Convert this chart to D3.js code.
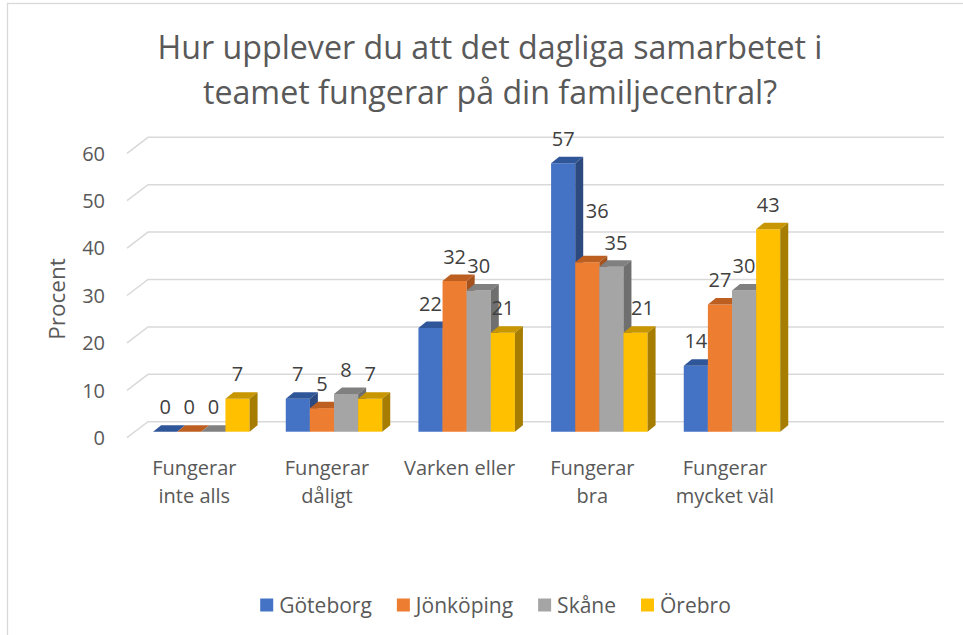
<!DOCTYPE html>
<html>
<head>
<meta charset="utf-8">
<script src="https://cdn.jsdelivr.net/npm/d3@7"></script>
<style>
  body { margin: 0; background: #fff; }
  svg { display: block; font-family: "Open Sans", sans-serif; }
</style>
</head>
<body>
<svg id="chart" width="963" height="635"></svg>
<script>
const titleLines = [
  "Hur upplever du att det dagliga samarbetet i",
  "teamet fungerar på din familjecentral?",
];
const categories = [
  "Fungerar inte alls",
  "Fungerar dåligt",
  "Varken eller",
  "Fungerar bra",
  "Fungerar mycket väl",
];
const seriesNames = ["Göteborg", "Jönköping", "Skåne", "Örebro"];
const goteborg = [0, 7, 22, 57, 14];
const jonkoping = [0, 5, 32, 36, 27];
const skane = [0, 8, 30, 35, 30];
const orebro = [7, 7, 21, 21, 43];
const yTicks = [0, 10, 20, 30, 40, 50, 60];
const yTitle = "Procent";

const seriesValues = [goteborg, jonkoping, skane, orebro];

// front / top / side shade of each 3d column
const colors = [
  { front: "#4472C4", top: "#30569A", side: "#2C4A80" },
  { front: "#ED7D31", top: "#BE5F22", side: "#A5531E" },
  { front: "#A5A5A5", top: "#808080", side: "#6F6F6F" },
  { front: "#FFC000", top: "#C79600", side: "#A67D00" },
];

// a few labels were dragged by hand in the original
const labelNudge = { "3-1": [10, -27], "3-2": [4.5, 0], "3-3": [7, 0] };

const svg = d3.select("#chart");

// chart frame (cut off at right and bottom in the screenshot)
svg
  .append("rect")
  .attr("x", 7.5)
  .attr("y", 3.5)
  .attr("width", 1000)
  .attr("height", 700)
  .attr("fill", "none")
  .attr("stroke", "#D9D9D9")
  .attr("stroke-width", 1.3);

// title, sized to the width it has in the original
const title = svg
  .append("g")
  .attr("fill", "#595959")
  .attr("text-anchor", "middle");
const titleText = title
  .selectAll("text")
  .data(titleLines)
  .join("text")
  .attr("x", 490)
  .attr("y", (d, i) => 58.5 + i * 45)
  .style("font-size", "28px")
  .text((d) => d);
const titleWidth = titleText.node().getComputedTextLength();
titleText.style("font-size", `${(28 * 665) / titleWidth}px`);

// wall depth: the back wall sits up and right of the front edge
const depth = { dx: 21, dy: -16 };
const yScale = d3.scaleLinear().domain([0, 60]).range([437.7, 153.3]);
// bars stand a bit inside the floor
const yBar = d3.scaleLinear().domain([0, 60]).range([431.7, 149.1]);
const barShift = { dx: 8, dy: -6 };
const barDepth = { dx: 8, dy: -6.5 };

// Excel left one empty category slot at the right
const xCat = d3
  .scaleBand()
  .domain([...categories, " "])
  .range([127, 923]);
const xSeries = d3
  .scaleBand()
  .domain(seriesNames)
  .range([0, xCat.step()])
  .paddingOuter(0.75);

// gridlines: side wall diagonal + back wall line
const grid = svg
  .append("g")
  .attr("stroke", "#D9D9D9")
  .attr("stroke-width", 1.5)
  .attr("fill", "none");
grid
  .selectAll("path")
  .data(yTicks)
  .join("path")
  .attr("d", (t) => {
    const x0 = xCat.range()[0];
    const y0 = yScale(t);
    return `M${x0},${y0}L${x0 + depth.dx},${y0 + depth.dy}L944,${y0 + depth.dy}`;
  });

// y tick labels
svg
  .append("g")
  .attr("fill", "#595959")
  .attr("text-anchor", "end")
  .style("font-size", "20px")
  .selectAll("text")
  .data(yTicks)
  .join("text")
  .attr("x", 105)
  .attr("y", (t) => yScale(t))
  .attr("dy", "0.36em")
  .text((t) => t);

// y axis title
svg
  .append("text")
  .attr("transform", "translate(65,299) rotate(-90)")
  .attr("text-anchor", "middle")
  .attr("fill", "#595959")
  .style("font-size", "22.5px")
  .text(yTitle);

// bars, painted left to right so each one covers the side of the one before
const bars = [];
categories.forEach((cat, ci) => {
  seriesNames.forEach((name, si) => {
    bars.push({ cat, ci, name, si, value: seriesValues[si][ci] });
  });
});

const barLayer = svg.append("g");
bars.forEach((b) => {
  const x0 = xCat(b.cat) + xSeries(b.name) + barShift.dx;
  const x1 = x0 + xSeries.bandwidth();
  const base = yBar(0);
  const top = yBar(b.value);
  const c = colors[b.si];
  const g = barLayer.append("g");
  g.append("path")
    .attr("fill", c.front)
    .attr("d", `M${x0},${base}L${x1},${base}L${x1},${top}L${x0},${top}Z`);
  g.append("path")
    .attr("fill", c.top)
    .attr(
      "d",
      `M${x0},${top}L${x1},${top}L${x1 + barDepth.dx},${top + barDepth.dy}L${x0 + barDepth.dx},${top + barDepth.dy}Z`,
    );
  g.append("path")
    .attr("fill", c.side)
    .attr(
      "d",
      `M${x1},${base}L${x1},${top}L${x1 + barDepth.dx},${top + barDepth.dy}L${x1 + barDepth.dx},${base + barDepth.dy}Z`,
    );
});

// data labels
svg
  .append("g")
  .attr("fill", "#404040")
  .attr("text-anchor", "middle")
  .style("font-size", "20px")
  .selectAll("text")
  .data(bars)
  .join("text")
  .attr("x", (b) => {
    const nudge = labelNudge[`${b.ci}-${b.si}`] || [0, 0];
    return xCat(b.cat) + xSeries(b.name) + barShift.dx + xSeries.bandwidth() / 2 + nudge[0];
  })
  .attr("y", (b) => {
    const nudge = labelNudge[`${b.ci}-${b.si}`] || [0, 0];
    return yBar(b.value) - 24.5 + nudge[1];
  })
  .attr("dy", "0.36em")
  .text((b) => b.value);

// category labels, wrapped like Excel does
const catLabels = svg
  .append("g")
  .attr("fill", "#595959")
  .attr("text-anchor", "middle")
  .style("font-size", "20px");
categories.forEach((cat) => {
  const text = catLabels
    .append("text")
    .attr("x", xCat(cat) + xCat.bandwidth() / 2 + 1)
    .attr("y", 475);
  const words = cat.split(" ");
  let line = [];
  let tspan = text.append("tspan").attr("x", text.attr("x")).attr("dy", 0);
  words.forEach((w) => {
    line.push(w);
    tspan.text(line.join(" "));
    if (tspan.node().getComputedTextLength() > 116 && line.length > 1) {
      line.pop();
      tspan.text(line.join(" "));
      line = [w];
      tspan = text
        .append("tspan")
        .attr("x", text.attr("x"))
        .attr("dy", 28)
        .text(w);
    }
  });
});

// legend
const legend = svg
  .append("g")
  .style("font-size", "21px")
  .attr("fill", "#595959");
const items = legend
  .selectAll("g")
  .data(seriesNames)
  .join("g");
items
  .append("rect")
  .attr("width", 13)
  .attr("height", 13)
  .attr("y", -6.5)
  .attr("fill", (d, i) => colors[i].front);
items
  .append("text")
  .attr("x", 19)
  .attr("dy", "0.36em")
  .text((d) => d);
let legendX = 0;
const offsets = [];
items.each(function () {
  offsets.push(legendX);
  legendX += 19 + d3.select(this).select("text").node().getComputedTextLength() + 25;
});
const legendWidth = legendX - 25;
items.attr(
  "transform",
  (d, i) => `translate(${495.5 - legendWidth / 2 + offsets[i]},605)`,
);
</script>
</body>
</html>
